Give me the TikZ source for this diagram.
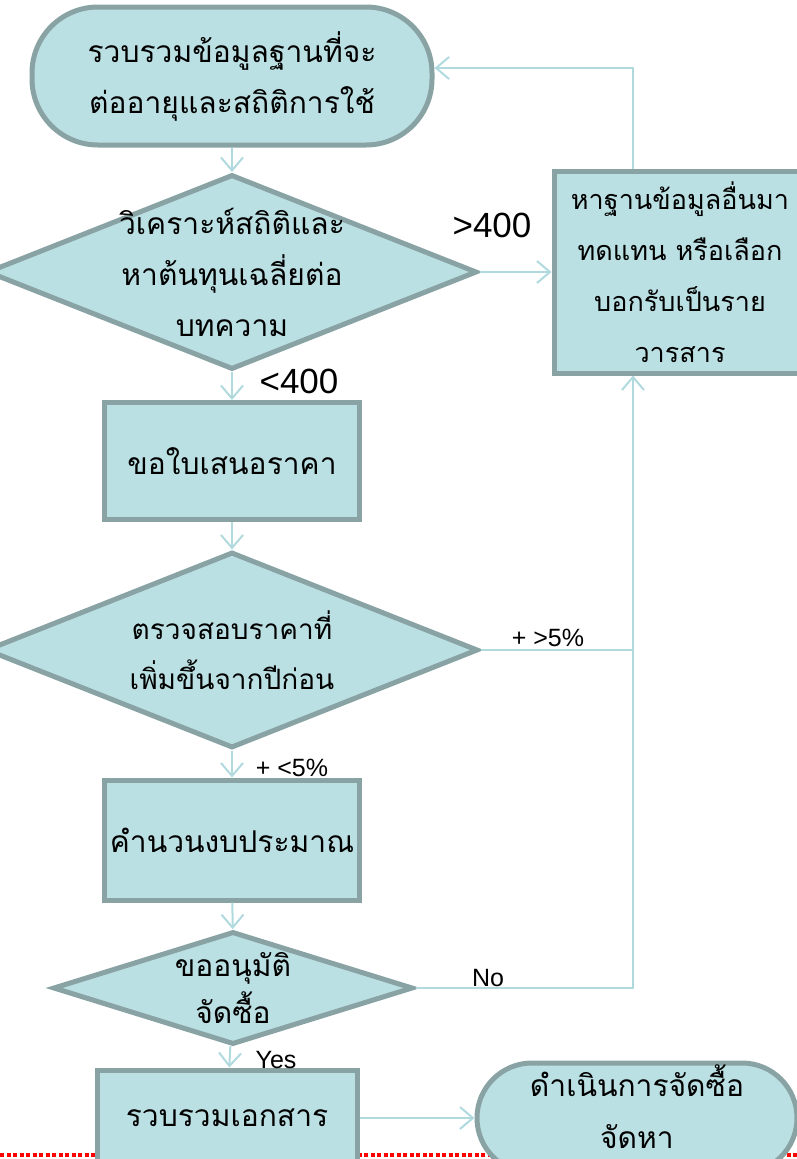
\documentclass[tikz,border=0pt]{standalone}
\usepackage{fontspec}
\usepackage{xcolor}
\usepackage{tikz}
\usetikzlibrary{arrows.meta, shapes.geometric}
\newfontfamily\thaifont[Script=Thai]{Loma}
\newfontfamily\latinfont{Liberation Sans}
\definecolor{boxfill}{HTML}{BBE0E3}
\definecolor{edgegray}{HTML}{89A3A5}
\definecolor{linkblue}{HTML}{B0DADE}

\begin{document}
\begin{tikzpicture}[x=1pt, y=-1pt,
    shape base/.style={draw=edgegray, fill=boxfill, line width=5pt, align=center,
        font=\thaifont\fontsize{30}{51}\selectfont},
    terminal/.style={shape base, rectangle, rounded corners=66pt},
    process/.style={shape base, rectangle, minimum width=255pt, minimum height=117pt},
    decision/.style={shape base, diamond, inner sep=0pt},
    thaitext/.style={align=center, font=\thaifont\fontsize{30}{51}\selectfont},
    flow/.style={draw=linkblue, line width=2pt,
        -{Straight Barb[length=13pt, width=22pt, line width=2pt]}},
    link/.style={draw=linkblue, line width=2pt},
    bigtag/.style={font=\latinfont\fontsize{35}{40}\selectfont},
    smalltag/.style={font=\latinfont\fontsize{25}{28}\selectfont}]
    \useasboundingbox (0,0) rectangle (797,1159);
    % --- red dotted border at the foot ---
    \draw[red, line width=4pt, dash pattern=on 4pt off 2.5pt] (0,1155) -- (797,1155);
    % --- main column ---
    \node[terminal, minimum width=400pt, minimum height=138pt] (collect) at (232,76)
        {รวบรวมข้อมูลฐานที่จะ\\ต่ออายุและสถิติการใช้};
    \node[decision, minimum width=490pt, minimum height=195pt,
        label={[thaitext]center:{วิเคราะห์สถิติและ\\หาต้นทุนเฉลี่ยต่อ\\บทความ}}]
        (analyse) at (232,272) {};
    \node[process] (quote) at (232,461) {ขอใบเสนอราคา};
    \node[decision, minimum width=492pt, minimum height=196pt,
        label={[thaitext, font=\thaifont\fontsize{28}{50}\selectfont]center:{ตรวจสอบราคาที่\\เพิ่มขึ้นจากปีก่อน}}]
        (check) at (232,650) {};
    \node[process, minimum height=120pt] (budget) at (232,840) {คำนวนงบประมาณ};
    \node[decision, minimum width=360pt, minimum height=113pt,
        label={[thaitext, font=\thaifont\fontsize{30}{47}\selectfont]center:{ขออนุมัติ\\จัดซื้อ}}]
        (approve) at (233,988) {};
    \node[process, minimum width=260pt, minimum height=96pt] (gather) at (227,1118)
        {รวบรวมเอกสาร};
    % --- right side ---
    \node[shape base, rectangle, minimum width=252pt, minimum height=202pt,
        font=\thaifont\fontsize{27}{51}\selectfont]
        (other) at (680,272)
        {หาฐานข้อมูลอื่นมา\\ทดแทน หรือเลือก\\บอกรับเป็นราย\\วารสาร};
    \node[terminal, rounded corners=55pt, minimum width=320pt, minimum height=110pt,
        label={[thaitext, font=\thaifont\fontsize{30}{52}\selectfont, yshift=11pt]center:{ดำเนินการจัดซื้อ\\จัดหา}}]
        (procure) at (637,1118) {};
    % --- connectors ---
    \draw[flow] (collect) -- (analyse);
    \draw[flow] (analyse) -- (quote);
    \draw[flow] (quote) -- (check);
    \draw[flow] (check) -- (budget);
    \draw[flow] (budget) -- (approve);
    \draw[flow] (approve) -- (gather);
    \draw[flow] (gather) -- (procure);
    \draw[flow] (analyse) -- (other);
    \draw[flow] ([xshift=-47pt]other.north) |- ([yshift=8pt]collect.east);
    \draw[link] (approve.east) -| ([xshift=-47pt]other.south);
    \draw[flow] (check.east) -| ([xshift=-47pt]other.south);
    % --- branch labels ---
    \node[bigtag] (over) at (492,225) {>400};
    \node[bigtag] (under) at (299,381) {<400};
    \node[smalltag] (rise) at (548,638) {+ >5\%};
    \node[smalltag] (low) at (292,768) {+ <5\%};
    \node[smalltag] (no) at (488,978) {No};
    \node[smalltag] (yes) at (276,1060) {Yes};
\end{tikzpicture}
\end{document}
